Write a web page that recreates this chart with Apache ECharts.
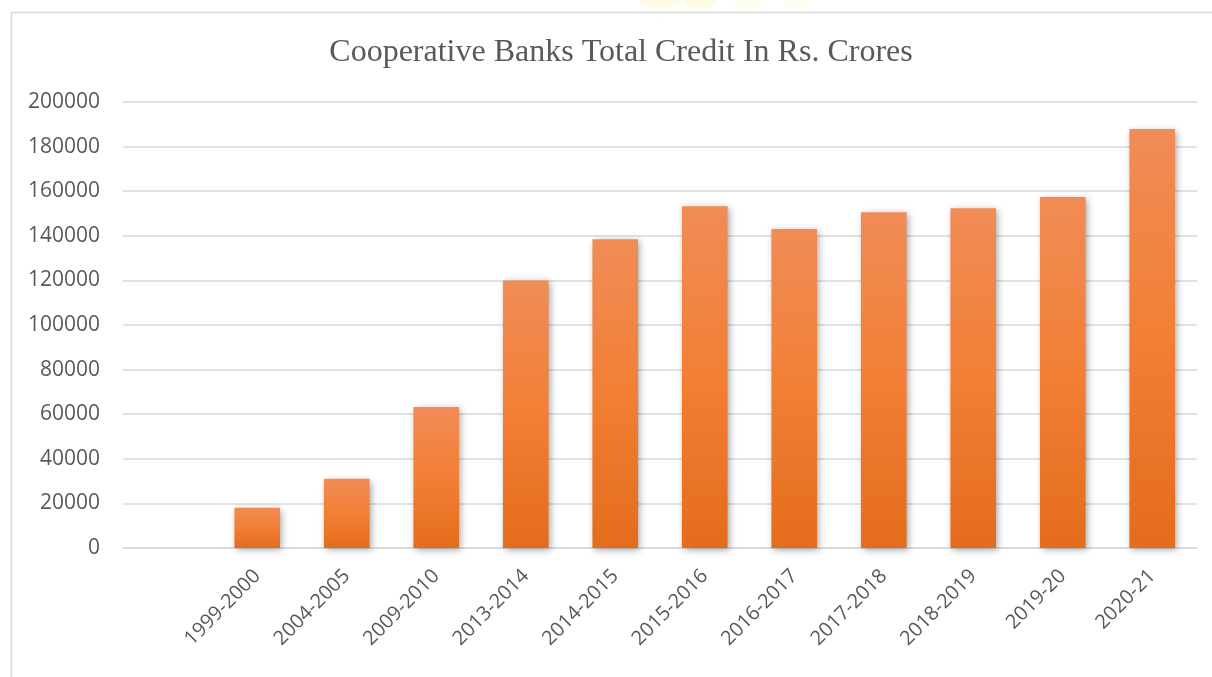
<!DOCTYPE html>
<html>
<head>
<meta charset="utf-8">
<script src="https://cdn.jsdelivr.net/npm/echarts@6/dist/echarts.min.js"></script>
<style>
html,body{margin:0;padding:0;background:#fff;}
#chart{width:1212px;height:677px;}
</style>
</head>
<body>
<div id="chart"></div>
<script>
const titleText = 'Cooperative Banks Total Credit In Rs. Crores';
const categories = ['', '1999-2000', '2004-2005', '2009-2010', '2013-2014', '2014-2015', '2015-2016', '2016-2017', '2017-2018', '2018-2019', '2019-20', '2020-21'];
const credit = [null, 18000, 31000, 63200, 120000, 138500, 153300, 143000, 150600, 152400, 157400, 187900];
const yMin = 0, yMax = 200000, yStep = 20000;

const glow = (cx, rx, a) => ({
  type: 'ellipse', shape: {cx: cx, cy: 2, rx: rx, ry: 6},
  style: {fill: 'rgba(255,240,140,' + a + ')', shadowBlur: 20, shadowColor: 'rgba(255,235,110,' + (a * 1.5) + ')'}, z: 0
});

const chart = echarts.init(document.getElementById('chart'), null, {renderer: 'canvas'});
chart.setOption({
  backgroundColor: '#ffffff',
  animation: false,
  title: {
    text: titleText,
    left: 616, top: 32, textAlign: 'center',
    textStyle: {fontFamily: 'Liberation Serif', fontWeight: 'normal', fontSize: 32, color: '#595959'}
  },
  graphic: [
    glow(660, 20, 0.22), glow(700, 16, 0.22), glow(748, 14, 0.14), glow(796, 12, 0.12),
    {type: 'rect', shape: {x: 11.5, y: 12.5, width: 1220, height: 700}, style: {fill: 'none', stroke: '#d9d9d9', lineWidth: 1.5}, z: 1}
  ],
  grid: {left: 123, right: 15, top: 102, bottom: 129, containLabel: false},
  xAxis: {
    type: 'category',
    data: categories,
    axisLine: {show: true, lineStyle: {color: '#d9d9d9', width: 1.5}},
    axisTick: {show: false},
    axisLabel: {rotate: 45, interval: 0, margin: 25, fontFamily: 'Open Sans', fontSize: 20, color: '#595959'}
  },
  yAxis: {
    type: 'value',
    min: yMin, max: yMax, interval: yStep,
    axisLine: {show: false},
    axisTick: {show: false},
    splitLine: {lineStyle: {color: '#d9d9d9', width: 1.5}},
    axisLabel: {margin: 23, fontFamily: 'Open Sans', fontSize: 21, color: '#595959', formatter: v => String(v)}
  },
  series: [{
    type: 'bar',
    data: credit,
    barCategoryGap: '49%',
    z: 3,
    itemStyle: {
      color: new echarts.graphic.LinearGradient(0, 0, 0, 1, [
        {offset: 0, color: '#f08c56'},
        {offset: 0.5, color: '#f27f35'},
        {offset: 1, color: '#e46c1c'}
      ]),
      shadowBlur: 7,
      shadowOffsetX: 2,
      shadowOffsetY: 2,
      shadowColor: 'rgba(0,0,0,0.35)'
    }
  }]
});
</script>
</body>
</html>
